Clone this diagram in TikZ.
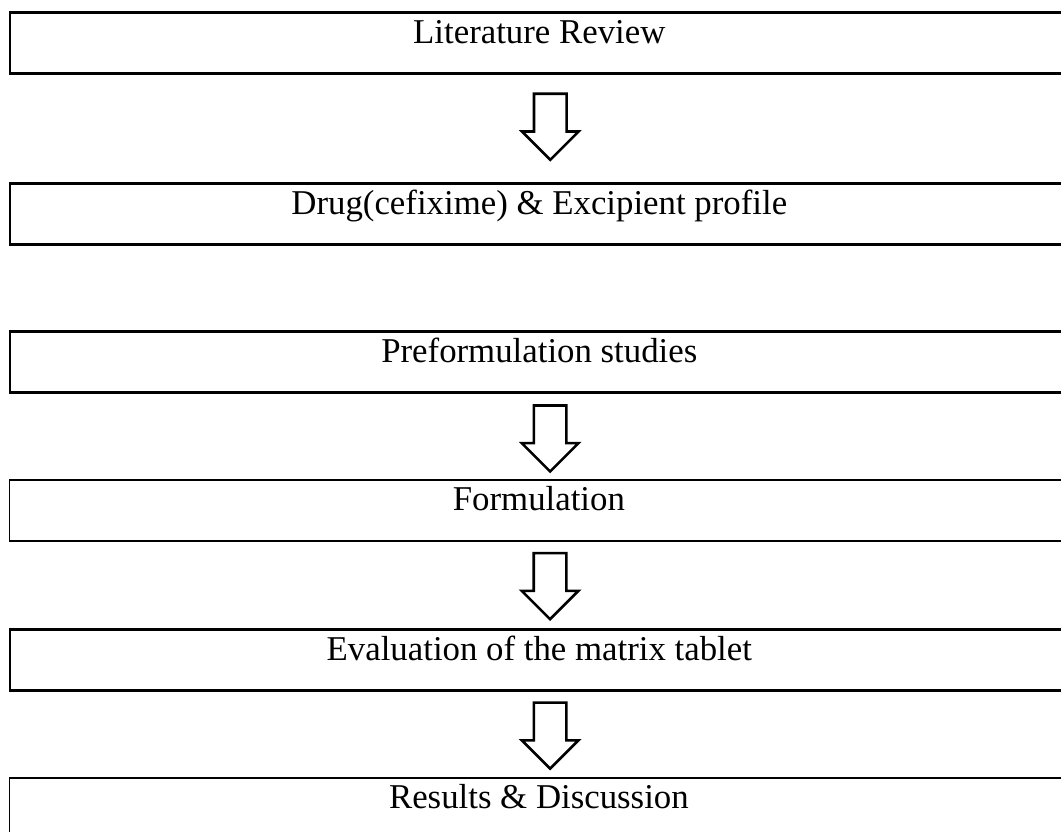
\documentclass[tikz,border=0pt]{standalone}
\usepackage{fontspec}
\setmainfont{Liberation Serif}
\usetikzlibrary{shapes.arrows}

\tikzset{
  stage/.style={draw, line width=2.6pt, inner sep=0pt, minimum width=1059pt,
    text height=31pt, text depth=30pt, anchor=north west,
    font=\fontsize{34.8}{40}\selectfont},
  stage thin/.style={stage, line width=1.8pt},
  flowarrow/.style={draw, line width=2.6pt, fill=white, single arrow,
    single arrow head extend=12pt, inner xsep=0pt, inner ysep=15pt,
    minimum height=66pt, rotate=-90}
}

\begin{document}
\begin{tikzpicture}[x=1pt, y=-1pt]
    \clip (0,0) rectangle (1061,831);

    % Stages (boxes run past the right edge)
    \node[stage] (lit) at (8.5,11) {Literature Review};
    \node[stage] (drug) at (8.5,182) {Drug(cefixime) \& Excipient profile};
    \node[stage] (prefo) at (8.5,330) {Preformulation studies};
    \node[stage thin] (formu) at (8.5,479) {Formulation};
    \node[stage] (evalu) at (8.5,628) {Evaluation of the matrix tablet};
    \node[stage thin] (results) at (8.5,777) {Results \& Discussion};

    % Block arrows between stages
    \path ([xshift=11pt]lit.south) -- ([xshift=11pt]drug.north) node[pos=0.41, flowarrow] (a1) {};
    \path ([xshift=11pt]prefo.south) -- ([xshift=11pt]formu.north) node[pos=0.43, flowarrow] (a2) {};
    \path ([xshift=11pt]formu.south) -- ([xshift=11pt]evalu.north) node[pos=0.42, flowarrow] (a3) {};
    \path ([xshift=11pt]evalu.south) -- ([xshift=11pt]results.north) node[pos=0.42, flowarrow] (a4) {};

\end{tikzpicture}
\end{document}
